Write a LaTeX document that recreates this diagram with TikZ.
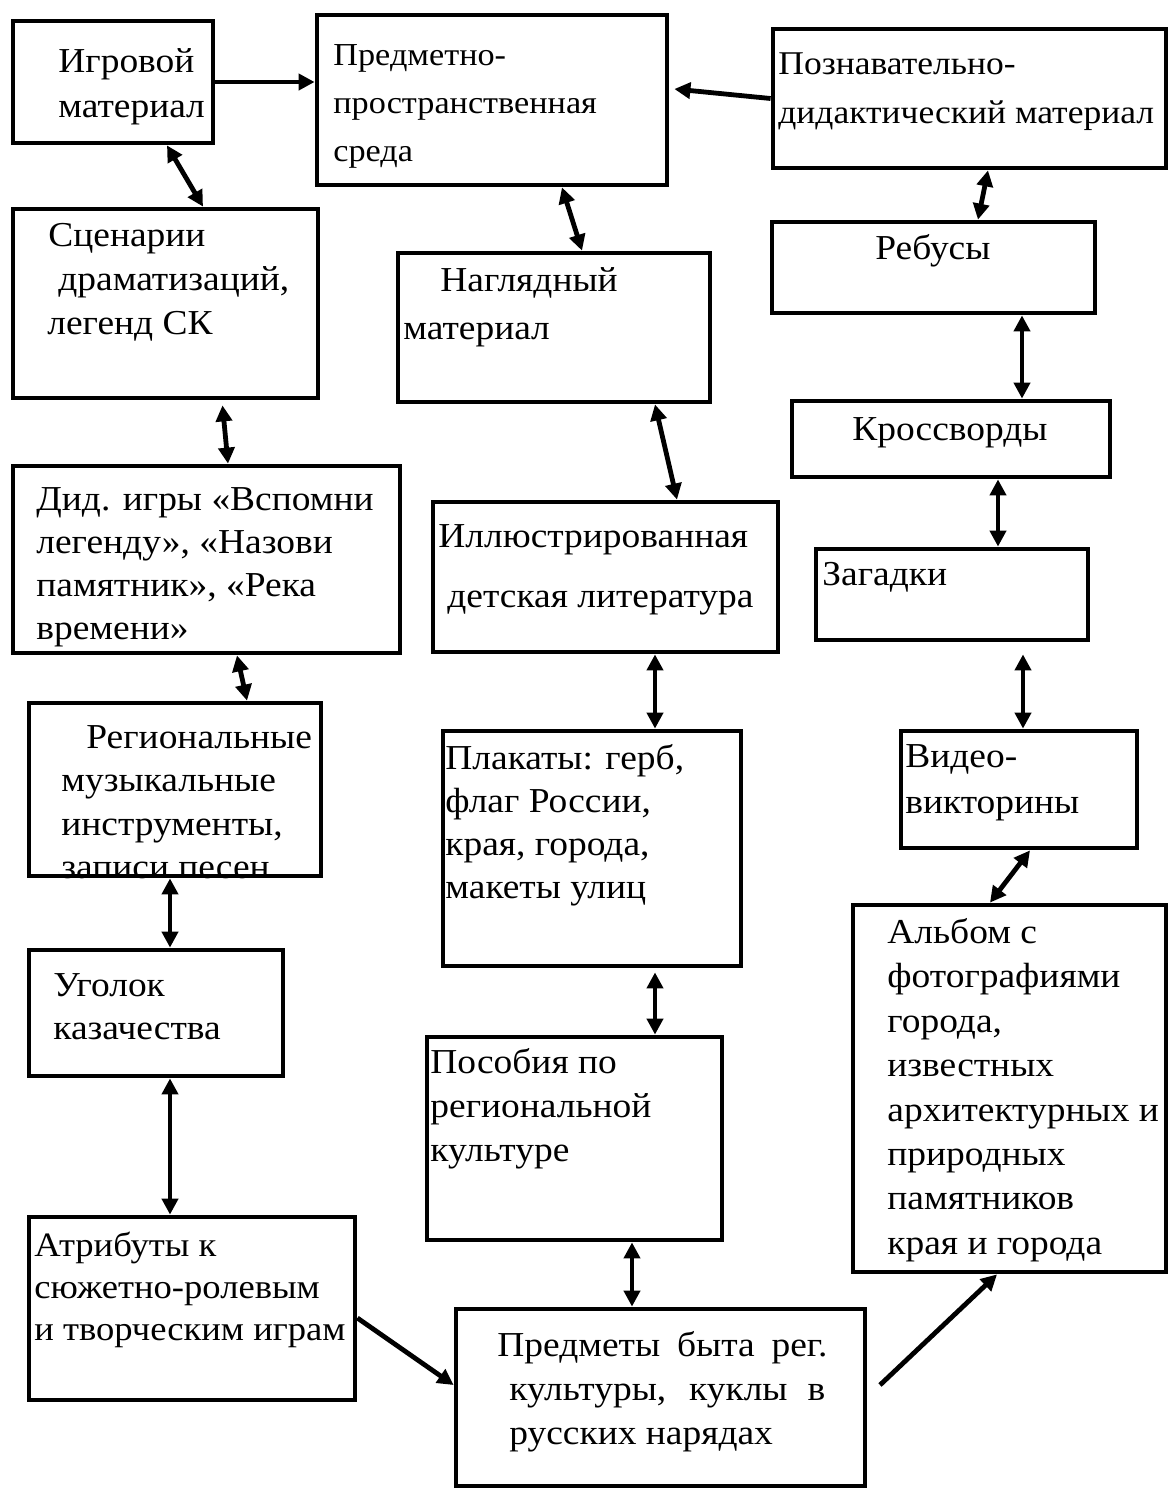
\documentclass[tikz,border=0pt]{standalone}
\usepackage{fontspec}
\setmainfont{Liberation Serif}[FakeStretch=1.07]
\usetikzlibrary{arrows.meta,fit,positioning}
\newcommand{\tstrut}{\rule{0pt}{12pt}}

\begin{document}
\begin{tikzpicture}[
  x=0.5pt, y=-0.5pt,
  box/.style={draw, line width=2.4pt, inner sep=0pt},
  txt/.style={anchor=north west, align=left, inner sep=0pt,
              font=\fontsize{17.5pt}{#1}\selectfont},
  txt/.default=22.5pt,
  arr/.style={-{Triangle[length=8pt,width=8pt]}, line width=2.4pt},
  dbl/.style={{Triangle[length=8pt,width=8pt]}-{Triangle[length=8pt,width=8pt]}, line width=2.4pt}
]
  \useasboundingbox (0,0) rectangle (1170,1490);

  % boxes
  \node[box, fit={(13,21) (213,143)}] (igr) {};
  \node[box, fit={(317,15) (667,185)}] (pred) {};
  \node[box, fit={(773,29) (1166,168)}] (poz) {};
  \node[box, fit={(13,209) (318,398)}] (scen) {};
  \node[box, fit={(398,253) (710,402)}] (nagl) {};
  \node[box, fit={(772,222) (1095,313)}] (reb) {};
  \node[box, fit={(792,401) (1110,477)}] (kros) {};
  \node[box, fit={(13,466) (400,653)}] (did) {};
  \node[box, fit={(433,502) (778,652)}] (ill) {};
  \node[box, fit={(816,549) (1088,640)}] (zag) {};
  \node[box, fit={(29,703) (321,876)}] (reg) {};
  \node[box, fit={(443,731) (741,966)}] (plak) {};
  \node[box, fit={(901,731) (1137,848)}] (video) {};
  \node[box, fit={(29,950) (283,1076)}] (ugol) {};
  \node[box, fit={(853,905) (1166,1272)}] (album) {};
  \node[box, fit={(427,1037) (722,1240)}] (posob) {};
  \node[box, fit={(29,1217) (355,1400)}] (atr) {};
  \node[box, fit={(456,1309) (865,1486)}] (predm) {};

  % texts
  \node[txt] (igr-t) at (58,48) {\tstrut Игровой\\материал};
  \node[txt, font=\fontsize{16pt}{24pt}\selectfont] (pred-t) at (333,41) {\tstrut Предметно-\\пространственная\\среда};
  \node[txt, font=\fontsize{16.6pt}{24.5pt}\selectfont] (poz-t) at (778,50) {\tstrut Познавательно-\\дидактический материал};
  \node[txt=22pt] (scen-t) at (47,222) {\tstrut\hspace*{0.5pt}Сценарии\\\hspace*{5.5pt}драматизаций,\\легенд СК};
  \node[txt=24pt] (nagl-t) at (403,267) {\tstrut\hspace*{18.5pt}Наглядный\\материал};
  \node[txt] (reb-t) at (875,234) {\tstrut Ребусы};
  \node[txt] (kros-t) at (852,416) {\tstrut Кроссворды};
  \node[txt=21.5pt] (did-t) at (36,486) {\tstrut Дид. игры «Вспомни\\легенду», «Назови\\памятник», «Река\\времени»};
  \node[txt=30pt] (ill-t) at (438,523) {\tstrut Иллюстрированная\\\hspace*{4.5pt}детская литература};
  \node[txt] (zag-t) at (822,561) {\tstrut Загадки};
  \begin{scope}
    \clip (reg.south west) rectangle (reg.north east);
    \node[txt=21.7pt] (reg-t) at (61,724) {\tstrut\hspace*{12.5pt}Региональные\\музыкальные\\инструменты,\\записи песен};
  \end{scope}
  \node[txt=21.5pt] (plak-t) at (445,744) {\tstrut Плакаты: герб,\\флаг России,\\края, города,\\макеты улиц};
  \node[txt=23pt] (video-t) at (905,743) {\tstrut Видео-\\викторины};
  \node[txt=21.5pt] (ugol-t) at (53,972) {\tstrut Уголок\\казачества};
  \node[txt=22.2pt] (album-t) at (887,918) {\tstrut Альбом с\\фотографиями\\города,\\известных\\архитектурных и\\природных\\памятников\\края и города};
  \node[txt=22pt] (posob-t) at (430,1048) {\tstrut Пособия по\\региональной\\культуре};
  \node[txt, font=\fontsize{17.1pt}{21pt}\selectfont] (atr-t) at (34,1232) {\tstrut Атрибуты к\\сюжетно-ролевым\\и творческим играм};
  \node[txt=22pt] (predm-t) at (497,1331) {\tstrut\makebox[165pt][s]{Предметы быта рег.}\\\hspace*{6pt}\makebox[158pt][s]{культуры, куклы в}\\\hspace*{6pt}русских нарядах};

  % arrows
  \draw[arr] (igr.east) -- (igr.east -| pred.west);
  \draw[arr] (poz.west) -- ([xshift=2.5pt,yshift=5.5pt]pred.east);
  \draw[dbl] (igr.south -| 167,0) -- (scen.north -| 203,0);
  \draw[dbl] (pred.south -| 562,0) -- (nagl.north -| 582,0);
  \draw[dbl] (poz.south -| 988,0) -- (reb.north -| 978,0);
  \draw[dbl] (reb.south -| 1022,0) -- (kros.north -| 1022,0);
  \draw[dbl] (kros.south -| 998,0) -- (zag.north -| 998,0);
  \draw[dbl, shorten <=6pt] (zag.south -| 1023,0) -- (video.north -| 1023,0);
  \draw[dbl] (video.south -| 1030,0) -- (album.north -| 990,0);
  \draw[dbl, shorten <=2.5pt] (scen.south -| 222,0) -- (did.north -| 228,0);
  \draw[dbl] (did.south -| 237,0) -- (reg.north -| 247,0);
  \draw[dbl] (reg.south -| 170,0) -- (ugol.north -| 170,0);
  \draw[dbl] (ugol.south -| 170,0) -- (atr.north -| 170,0);
  \draw[dbl] (nagl.south -| 655,0) -- (ill.north -| 677,0);
  \draw[dbl] (ill.south -| 655,0) -- (plak.north -| 655,0);
  \draw[dbl, shorten <=2pt] (plak.south -| 655,0) -- (posob.north -| 655,0);
  \draw[dbl] (posob.south -| 632,0) -- (predm.north -| 632,0);
  \draw[arr] (atr.east |- 0,1318) -- (predm.west |- 0,1385);
  \coordinate (predm-out) at (880,1385);
  \draw[arr] (predm-out) -- (album.south -| 997,0);
\end{tikzpicture}
\end{document}
